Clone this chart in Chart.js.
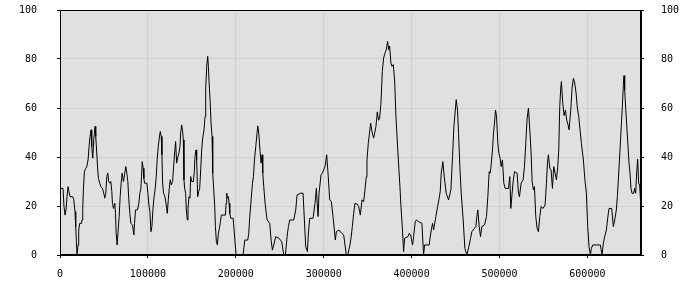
<!DOCTYPE html>
<html>
<head>
<meta charset="utf-8">
<script src="https://cdn.jsdelivr.net/npm/chart.js@4/dist/chart.umd.min.js"></script>
<style>
html,body{margin:0;padding:0;background:#fff;}
canvas{display:block;}
</style>
</head>
<body>
<canvas id="c" width="700" height="300"></canvas>
<script>
const xValues = [0,3422,4562,5703,6844,7984,9125,10265,11406,14448,15588,17109,17869,18630,19390,20531,21291,22432,24333,25093,25854,26614,27755,29275,30416,31937,33077,34218,35359,36119,37260,38400,39161,39921,40681,41822,42963,43723,45244,46384,48285,49806,50947,52087,53228,54369,55509,56650,57790,58931,59691,60832,62353,63113,63874,65014,66155,67296,68436,69577,70717,72238,73379,74899,76040,77181,78321,79462,80602,82503,84024,84785,85925,88206,89727,90868,92008,92769,93529,94670,95430,96191,98852,99993,101133,102274,103415,104555,105696,106836,108357,109498,110638,111779,112919,114060,115201,115961,116721,117862,119383,120904,122044,123185,124325,125466,126607,128127,129268,130409,131549,132690,134211,135351,136492,137252,138393,139533,140294,141054,141815,142955,143716,144856,145617,146757,147898,148658,149799,151700,152840,153601,154741,155502,156643,157783,158924,160064,161205,162345,163866,165007,165767,166908,168048,168809,169569,170710,171850,172991,173751,174892,176033,176793,177934,179074,180215,181355,182496,183637,188199,188959,189720,190480,191621,192381,193142,194282,196944,198084,199225,200365,208334,210228,213637,214773,215910,217425,218940,220076,221213,222728,225001,226137,227652,228789,229925,230683,231819,233334,235607,238638,240153,241668,243183,245456,249244,252274,254547,256441,258335,259850,261366,265911,268184,269699,273487,276518,278033,279548,281442,282578,284094,287882,290154,291670,293564,294700,296973,298488,301518,303412,304928,306822,308716,310610,313261,314398,317428,320458,322731,324246,325762,327277,329550,331065,332580,334095,335610,337883,339778,341672,343566,345459,346974,348490,349247,350762,353414,354929,356823,357960,359475,360990,362505,363642,365157,366672,368187,369702,371218,372733,373869,375006,376521,377657,379172,380688,382203,384476,386748,387885,389400,390915,392052,395840,397355,398870,401143,402279,404173,405310,407961,411749,413643,414780,420083,421219,422735,423871,425007,427659,429553,431068,432583,433720,435614,437129,439402,442053,444705,446599,448114,450766,452281,453417,454933,456448,458721,460615,462888,465150,467044,468560,471590,473105,474242,475378,476893,478408,479924,482954,485227,486742,488257,489394,490530,492045,493182,494318,495454,496591,498106,499242,500758,501894,503409,504924,506440,510228,511743,512879,514016,515531,517046,520076,521592,522728,524622,526895,528410,529925,531440,532956,534850,535986,537122,538638,539774,541289,542804,544320,545835,547350,549623,551896,553411,554547,555684,557199,558714,560229,561744,563260,564775,566290,567426,568563,569699,570457,571972,573487,575002,576518,578033,579169,581063,582578,584094,585609,587124,588639,590154,591670,593185,595458,597352,598867,600382,601897,603412,604549,606064,614776,616670,618186,619701,621595,623110,624625,627656,629550,631065,632960,634096,635232,637126,638642,639778,640914,641672,642430,643566,645460,647354,648491,649627,650764,652658,653794,654930,656066,657203,658339,659476,660612,661000];
const yValues = [27.2,27.2,19.8,16.3,18.4,23.8,27.9,25.9,23.8,23.8,22.7,17.7,11.6,5.4,0,4.1,10.2,12.9,12.9,14.3,19,26.6,34,35.4,36,38.8,44.3,48.4,51.1,44.3,39.5,47,49.7,52.5,48.4,41.6,34.7,31.3,29.3,27.9,27.2,25.2,23.2,25.2,32,33.4,30,29.3,30,25.9,21.1,19,21.1,17,8.9,4.1,10.2,15.7,23.8,29.3,33.4,30,32.7,36.1,33.4,30,22.5,17,12.9,12.3,8.2,12.9,18.4,18.4,21.1,25.2,27.2,32,38.1,35.4,31.3,29.3,29.3,25.2,20.4,17.7,9.5,11.6,18.4,23.2,27.2,32,39.5,44.3,47.7,50.4,48.4,40.9,29.3,25.2,23.8,20.4,17,22.5,27.2,30.7,28.6,30,36.1,41.6,46.3,37.5,40.2,41.6,44.3,49.7,53.1,50.4,47,30.7,27.2,25.2,18.4,14.3,19,23.8,23.2,32,30,30,34,40.2,42.9,38.8,23.8,25.9,27.2,34.7,42.9,47.7,51.1,56.5,68.1,77,81.1,77,70.8,63.4,53.8,48.4,33.4,26.6,19.8,11.6,5.4,4.1,8.9,10.9,13.6,16.3,16.3,21.1,25.2,23.2,23.8,21.1,17,15,15,10.2,4.8,0,0,6.1,6.1,8.9,15.7,22.5,29.3,32,38.8,44.3,52.7,49.7,42.2,37.5,40.9,33.4,27.9,21.1,14.3,12.9,6.1,2,4.1,7.5,6.8,5.4,0,0,7.5,11.6,14.3,14.3,18.4,24.5,25.2,25.2,14.3,3.4,1.4,8.9,15,15,21.1,27.2,15.7,25.2,32.7,33.4,36.1,40.9,33.4,22.5,21.8,15.7,6.1,9.5,10.2,8.9,8.2,4.1,0,0,3.4,6.8,11.6,17,21.1,20.8,19.8,16.3,22.5,21.8,26.6,32,38.8,45.6,53.8,50.4,47.7,49.7,52.5,58.4,55,55.9,62,74.9,80.4,82.4,83.8,87.2,83.8,85.3,78.3,77,77.7,71.5,56.5,41.6,27.9,19.8,11.6,1.4,6.8,7.5,8.9,8.2,4.1,7.5,13.6,14.3,13.6,12.9,0,4.1,4.1,7.5,10.9,12.9,10.2,15.7,19.8,22.5,25.9,33.4,38.1,32,25.2,22.5,26.6,40.2,52.5,63.4,59.1,49.7,36.1,25.2,14.3,2.7,0,3.4,6.8,9.5,10.9,11.6,15.7,18.4,11.6,7.5,11.6,12.3,15.7,23.8,34,33.4,36.8,42.9,49.7,53.8,59.1,56.9,45.6,41.6,39.5,36.1,38.8,29.3,27.2,27.2,32,19,23.8,30,34,33.4,25.2,23.8,29.3,30.7,36.1,45.6,55.9,59.9,49,41.6,30,26.6,27.9,15.7,10.9,9.5,15.7,19.8,19,20.4,29.3,37.5,40.9,35.4,34.7,27.2,36.1,33.4,30.7,36.1,42.9,60.6,68.1,70.8,62,56.9,59.1,55,53.1,51.1,59.1,68.1,72.2,70.2,66.1,59.9,56.5,51.1,45.6,38.8,30,25.2,11.6,3.4,0,2.7,4.1,4.1,0,4.8,7.5,10.2,15,19,19,11.6,14.3,18.4,23.8,30.7,42.9,53.1,60.6,69.5,73.2,67.4,59.9,49,37.5,33.4,27.2,25.2,25.2,27.2,25.2,33.4,39.1,29.3,28.6,21.1,20];
const xTicks = [0,100000,200000,300000,400000,500000,600000];
const yTicks = [0,20,40,60,80,100];
const xMax = 661000;

const points = xValues.map((x, i) => ({x: x, y: yValues[i]}));
const FONT = {family: 'DejaVu Sans Mono', size: 10};

const plotBg = {
  id: 'plotBg',
  beforeDraw(chart) {
    const a = chart.chartArea, ctx = chart.ctx;
    ctx.save();
    ctx.fillStyle = '#e0e0e0';
    ctx.fillRect(a.left, a.top, a.right - a.left, a.bottom - a.top);
    ctx.restore();
  },
  afterDatasetsDraw(chart) {
    const a = chart.chartArea, ctx = chart.ctx;
    ctx.save();
    ctx.strokeStyle = '#000';
    ctx.lineWidth = 1;
    ctx.strokeRect(Math.round(a.left) + 0.5, Math.round(a.top) + 0.5, Math.round(a.right - a.left) - 1, Math.round(a.bottom - a.top) - 1);
    ctx.restore();
  }
};

function fixY(w) {
  return function (axis) { axis.width = w; axis.paddingTop = 0; axis.paddingBottom = 0; };
}

new Chart(document.getElementById('c'), {
  type: 'line',
  data: {
    datasets: [{
      data: points,
      borderColor: '#000',
      borderWidth: 1,
      pointRadius: 0,
      tension: 0,
      fill: false,
      yAxisID: 'y'
    }]
  },
  options: {
    responsive: false,
    animation: false,
    devicePixelRatio: 1,
    layout: {padding: {top: 10, left: 0, right: 0, bottom: 0}},
    plugins: {legend: {display: false}, tooltip: {enabled: false}},
    scales: {
      x: {
        type: 'linear',
        min: 0,
        max: xMax,
        afterBuildTicks(axis) { axis.ticks = xTicks.map(v => ({value: v})); },
        afterFit(axis) { axis.height = 45; axis.paddingLeft = 0; axis.paddingRight = 0; },
        grid: {color: '#d0d0d0', tickColor: '#000', tickLength: 3, drawTicks: true},
        border: {color: '#000'},
        ticks: {color: '#000', font: FONT, padding: 10, maxRotation: 0, autoSkip: false, callback: v => String(v)}
      },
      y: {
        position: 'left',
        min: 0,
        max: 100,
        afterBuildTicks(axis) { axis.ticks = yTicks.map(v => ({value: v})); },
        afterFit: fixY(60),
        grid: {color: '#d0d0d0', tickColor: '#000', tickLength: 3},
        border: {color: '#000'},
        ticks: {color: '#000', font: FONT, padding: 20, callback: v => String(v)}
      },
      y2: {
        position: 'right',
        min: 0,
        max: 100,
        afterBuildTicks(axis) { axis.ticks = yTicks.map(v => ({value: v})); },
        afterFit: fixY(59),
        grid: {drawOnChartArea: false, tickColor: '#000', tickLength: 3},
        border: {color: '#000'},
        ticks: {color: '#000', font: FONT, padding: 17, callback: v => String(v)}
      }
    }
  },
  plugins: [plotBg]
});
</script>
</body>
</html>
